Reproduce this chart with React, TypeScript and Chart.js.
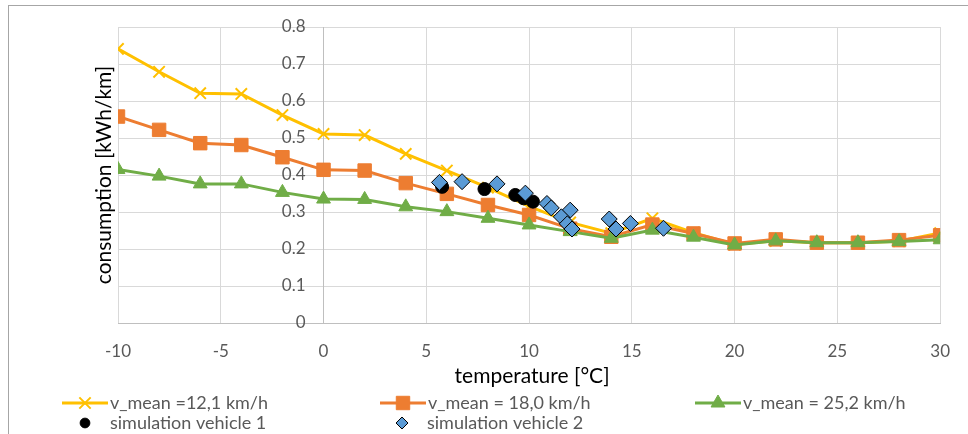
import { useEffect, useRef } from 'react';
import { Chart, registerables } from 'chart.js';
import { drawPoint } from 'chart.js/helpers';

Chart.register(...registerables);

const temperatures = [-10, -8, -6, -4, -2, 0, 2, 4, 6, 8, 10, 12, 14, 16, 18, 20, 22, 24, 26, 28, 30];
const vMean121 = [0.741, 0.679, 0.621, 0.619, 0.562, 0.511, 0.508, 0.457, 0.412, 0.366, 0.315, 0.272, 0.243, 0.283, 0.244, 0.212, 0.222, 0.217, 0.217, 0.221, 0.243];
const vMean180 = [0.558, 0.522, 0.486, 0.481, 0.448, 0.414, 0.412, 0.378, 0.349, 0.319, 0.292, 0.255, 0.233, 0.266, 0.242, 0.215, 0.226, 0.217, 0.217, 0.224, 0.237];
const vMean252 = [0.415, 0.397, 0.376, 0.376, 0.353, 0.335, 0.334, 0.314, 0.301, 0.283, 0.265, 0.247, 0.229, 0.251, 0.232, 0.211, 0.222, 0.217, 0.217, 0.220, 0.225];

const vehicle1Temp = [5.77, 7.83, 9.33, 9.74, 10.19];
const vehicle1Cons = [0.368, 0.362, 0.346, 0.337, 0.328];
const vehicle2Temp = [5.64, 6.74, 8.44, 9.82, 10.87, 11.08, 12.0, 11.57, 11.86, 12.09, 13.9, 14.23, 14.93, 16.54];
const vehicle2Cons = [0.380, 0.382, 0.376, 0.351, 0.323, 0.311, 0.305, 0.287, 0.268, 0.254, 0.281, 0.254, 0.269, 0.256];

const seriesLabels = ['v_mean =12,1 km/h', 'v_mean = 18,0 km/h', 'v_mean = 25,2 km/h', 'simulation vehicle 1', 'simulation vehicle 2'];
const xTitle = 'temperature [°C]';
const yTitle = 'consumption [kWh/km]';
const xMin = -10, xMax = 30, xStep = 5;
const yMin = 0, yMax = 0.8, yStep = 0.1;
const yAxisCrossesAt = 0;

const FONT = 'Lato';
const YELLOW = '#FFC000';
const ORANGE = '#ED7D31';
const GREEN = '#70AD47';
const BLUE = '#5B9BD5';
const TICK_COLOR = '#595959';

const toPoints = (xs: number[], ys: number[]) => xs.map((x, i) => ({ x, y: ys[i] }));

// legend slot positions (layout only)
const legendSlots = [
  { x: 62, y: 403, line: true },
  { x: 380, y: 403, line: true },
  { x: 695, y: 403, line: true },
  { x: 62, y: 423, line: false },
  { x: 379, y: 423, line: false },
];

const overlayPlugin = {
  id: 'overlay',
  afterDraw(chart: any) {
    const ctx: CanvasRenderingContext2D = chart.ctx;
    const area = chart.chartArea;
    const xs = chart.scales.x;
    const ys = chart.scales.y;
    ctx.save();

    // y tick labels, placed left of the y axis (which crosses at x = 0)
    const axisX = xs.getPixelForValue(yAxisCrossesAt);
    ctx.fillStyle = TICK_COLOR;
    ctx.font = `17px ${FONT}`;
    ctx.textAlign = 'right';
    ctx.textBaseline = 'middle';
    ys.ticks.forEach((t: any) => {
      ctx.fillText(String(t.label), axisX - 18, ys.getPixelForValue(t.value));
    });

    // axis titles
    ctx.fillStyle = '#000';
    ctx.font = `21px ${FONT}`;
    ctx.textAlign = 'center';
    ctx.save();
    ctx.translate(104, (area.top + area.bottom) / 2);
    ctx.rotate(-Math.PI / 2);
    ctx.fillText(yTitle, 0, 0);
    ctx.restore();
    ctx.fillText(xTitle, (area.left + area.right) / 2 + 3, 376);

    // legend
    chart.data.datasets.forEach((ds: any, i: number) => {
      const slot = legendSlots[i];
      if (!slot) return;
      const cx = slot.x + 23;
      if (slot.line) {
        ctx.strokeStyle = ds.borderColor;
        ctx.lineWidth = ds.borderWidth;
        ctx.beginPath();
        ctx.moveTo(slot.x, slot.y);
        ctx.lineTo(slot.x + 46, slot.y);
        ctx.stroke();
      }
      ctx.fillStyle = ds.pointBackgroundColor;
      ctx.strokeStyle = ds.pointBorderColor;
      ctx.lineWidth = ds.pointBorderWidth;
      const r = slot.line ? ds.pointRadius : ds.pointRadius * 0.75;
      drawPoint(ctx, { pointStyle: ds.pointStyle, radius: r, borderWidth: ds.pointBorderWidth, rotation: 0 } as any, cx, slot.y);
      ctx.fillStyle = TICK_COLOR;
      ctx.font = `18px ${FONT}`;
      ctx.textAlign = 'left';
      ctx.textBaseline = 'middle';
      ctx.fillText(ds.label, slot.x + 48, slot.y);
    });
    ctx.restore();
  },
};

export default function App() {
  const ref = useRef<HTMLCanvasElement | null>(null);
  useEffect(() => {
    if (!ref.current) return;
    const chart = new Chart(ref.current, {
      type: 'scatter',
      data: {
        datasets: [
          {
            label: seriesLabels[0],
            data: toPoints(temperatures, vMean121),
            showLine: true,
            borderColor: YELLOW,
            borderWidth: 3,
            pointStyle: 'crossRot',
            pointRadius: 8,
            pointBackgroundColor: YELLOW,
            pointBorderColor: YELLOW,
            pointBorderWidth: 2,
            order: 5,
          },
          {
            label: seriesLabels[1],
            data: toPoints(temperatures, vMean180),
            showLine: true,
            borderColor: ORANGE,
            borderWidth: 3,
            pointStyle: 'rect',
            pointRadius: 9.5,
            pointBackgroundColor: ORANGE,
            pointBorderColor: ORANGE,
            pointBorderWidth: 1,
            order: 4,
          },
          {
            label: seriesLabels[2],
            data: toPoints(temperatures, vMean252),
            showLine: true,
            borderColor: GREEN,
            borderWidth: 3,
            pointStyle: 'triangle',
            pointRadius: 8,
            pointBackgroundColor: GREEN,
            pointBorderColor: GREEN,
            pointBorderWidth: 1,
            order: 3,
          },
          {
            label: seriesLabels[3],
            data: toPoints(vehicle1Temp, vehicle1Cons),
            showLine: false,
            pointStyle: 'circle',
            pointRadius: 6.5,
            pointBackgroundColor: '#000',
            pointBorderColor: '#000',
            pointBorderWidth: 1,
            order: 2,
          },
          {
            label: seriesLabels[4],
            data: toPoints(vehicle2Temp, vehicle2Cons),
            showLine: false,
            pointStyle: 'rectRot',
            pointRadius: 8,
            pointBackgroundColor: BLUE,
            pointBorderColor: '#000',
            pointBorderWidth: 1,
            order: 1,
          },
        ] as any,
      },
      options: {
        animation: false,
        responsive: false,
        devicePixelRatio: 1,
        layout: { padding: { left: 118, right: 27, top: 27, bottom: 0 } },
        plugins: { legend: { display: false }, tooltip: { enabled: false } },
        scales: {
          x: {
            type: 'linear',
            position: 'bottom',
            min: xMin,
            max: xMax,
            ticks: { stepSize: xStep, color: TICK_COLOR, font: { family: FONT, size: 17 }, padding: 18 },
            grid: { color: '#d9d9d9', drawTicks: false },
            border: { color: '#bfbfbf' },
            afterFit: (s: any) => { s.height = 111; },
          },
          y: {
            type: 'linear',
            position: { x: yAxisCrossesAt } as any,
            min: yMin,
            max: yMax,
            ticks: { stepSize: yStep, display: false },
            grid: { color: '#d9d9d9', drawTicks: false },
            border: { color: '#bfbfbf' },
          },
        },
      },
      plugins: [overlayPlugin],
    } as any);
    return () => chart.destroy();
  }, []);
  return (
    <div style={{ position: 'absolute', left: 0, top: 0, width: 968, height: 434, overflow: 'hidden', background: '#fff' }}>
      <div style={{ position: 'absolute', left: 8, top: 5, width: 960, height: 429, boxSizing: 'border-box', borderLeft: '1px solid #a6a6a6', borderTop: '1px solid #a6a6a6' }} />
      <canvas ref={ref} width={968} height={434} style={{ position: 'absolute', left: 0, top: 0, width: 968, height: 434 }} />
    </div>
  );
}
